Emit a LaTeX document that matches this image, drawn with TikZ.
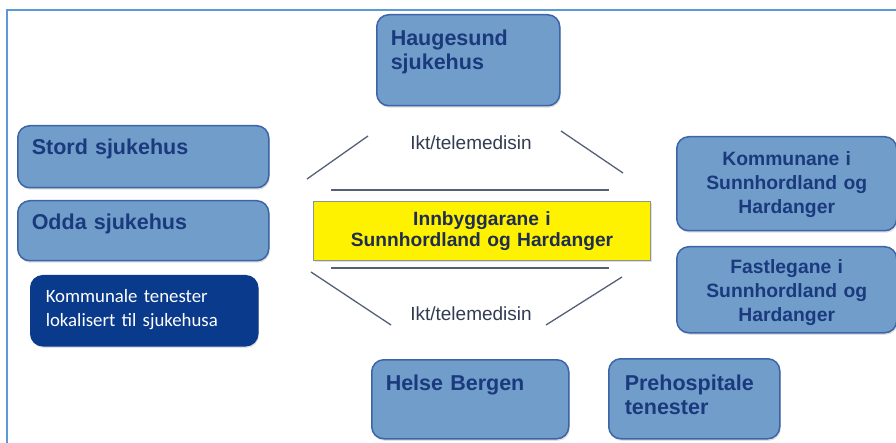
\documentclass[tikz,border=0pt]{standalone}
\usepackage{fontspec}
\setmainfont{Liberation Sans}
\newfontfamily\calfont{Carlito}
\usetikzlibrary{shadows}
\definecolor{boxblue}{RGB}{112,157,201}
\definecolor{boxedge}{RGB}{62,100,168}
\definecolor{boxtext}{RGB}{27,58,125}
\definecolor{darkbox}{RGB}{10,58,140}
\definecolor{yellowedge}{RGB}{140,150,140}
\definecolor{yellowtext}{RGB}{30,45,80}
\definecolor{ikttext}{RGB}{50,60,80}
\definecolor{linegray}{RGB}{85,95,120}
\definecolor{frameblue}{RGB}{91,155,213}

\begin{document}
\begin{tikzpicture}[x=1pt,y=-1pt,
    box/.style={draw=boxedge, fill=boxblue, line width=1.5pt, rounded corners=12pt,
        anchor=north west, inner ysep=0pt, text=boxtext,
        drop shadow={shadow xshift=1pt, shadow yshift=-2pt, opacity=0.25}},
    lbox/.style={box, align=left, inner xsep=14pt, font=\fontsize{21.5}{24}\selectfont\bfseries},
    cbox/.style={box, align=center, inner xsep=6pt, font=\fontsize{19.3}{24}\selectfont\bfseries},
    ikt/.style={anchor=base, text=ikttext, font=\fontsize{19}{20}\selectfont},
    diag/.style={draw=linegray, line width=1.3pt},
    bar/.style={draw=linegray, line width=2.2pt}]
        \useasboundingbox (0,0) rectangle (896,443);
        \draw[frameblue, line width=2pt] (7,460) -- (7,10) -- (910,10);

        \node[lbox, text width=155pt, text height=31pt, text depth=60pt] (haug) at (376,14) {Haugesund\\sjukehus};
        \node[lbox, text width=223pt, text height=29pt, text depth=33pt] (stord) at (17,125) {Stord sjukehus};
        \node[lbox, text width=223pt, text height=29pt, text depth=31pt] (odda) at (17,200) {Odda sjukehus};
        \node[box, fill=darkbox, draw=darkbox, text=white, align=left, inner xsep=15pt,
            text width=197pt, text height=27pt, text depth=43pt,
            font=\calfont\fontsize{18.8}{24}\selectfont] (komtj) at (30,275) {Kommunale tenester\\lokalisert til sjukehusa};
        \node[cbox, text width=208pt, text height=29pt, text depth=65pt] (kommunane) at (676,136) {Kommunane i\\Sunnhordland og\\Hardanger};
        \node[cbox, text width=208pt, text height=27pt, text depth=59pt] (fastlegane) at (676,246) {Fastlegane i\\Sunnhordland og\\Hardanger};
        \node[lbox, text width=169pt, text height=31pt, text depth=48pt] (helse) at (371,359) {Helse Bergen};
        \node[lbox, inner xsep=16pt, text width=139pt, text height=32pt, text depth=48pt] (preh) at (608,358) {Prehospitale\\tenester};
        \node[box, fill=yellow, draw=yellowedge, line width=1pt, rounded corners=0pt, text=yellowtext,
            align=center, inner xsep=6pt, text width=325pt, text height=24pt, text depth=35pt,
            font=\fontsize{19.2}{21}\selectfont\bfseries] (innb) at (313,201) {Innbyggarane i\\Sunnhordland og Hardanger};

        \node[ikt] (iktup) at (471,150) {Ikt/telemedisin};
        \node[ikt] (iktdown) at (471,320) {Ikt/telemedisin};

        \draw[bar] (331,190) -- (609,190);
        \draw[bar] (331,268) -- (609,268);
        \draw[diag] (307,179) -- (368,136);
        \draw[diag] (561,131) -- (623,173);
        \draw[diag] (311,272) -- (391,325);
        \draw[diag] (546,325) -- (622,277);
    \end{tikzpicture}
\end{document}
